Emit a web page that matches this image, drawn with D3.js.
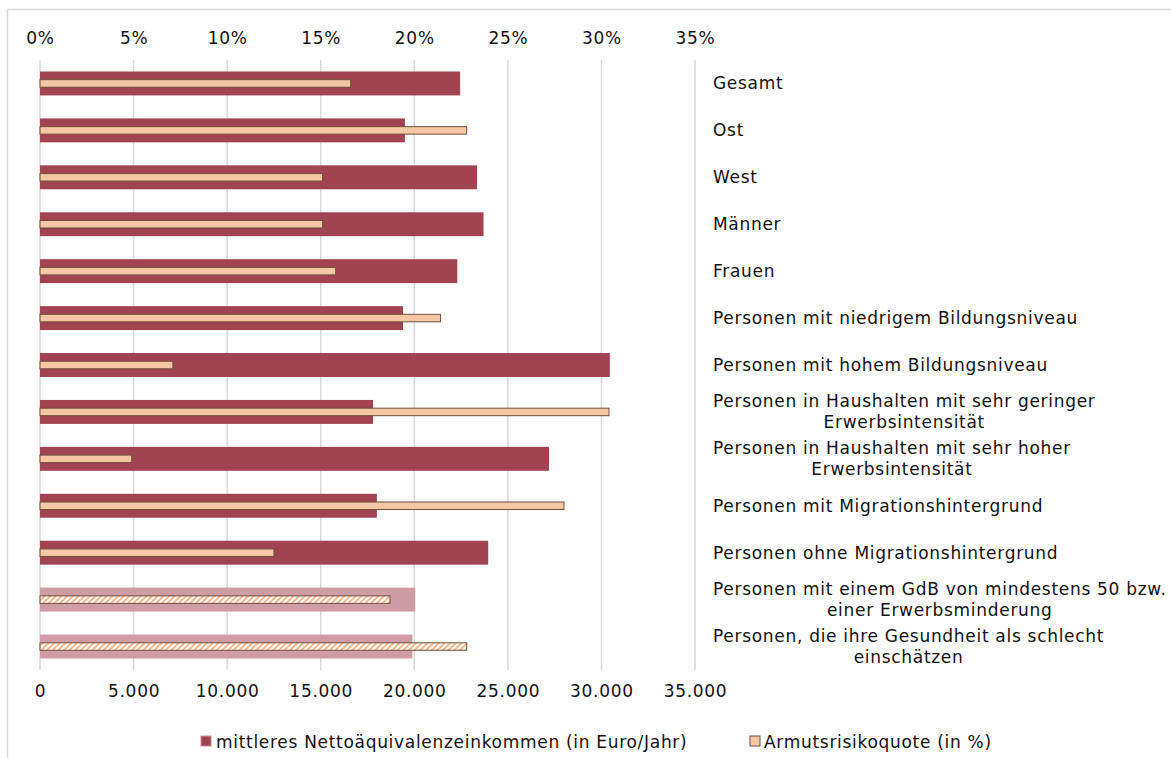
<!DOCTYPE html>
<html>
<head>
<meta charset="utf-8">
<script src="https://cdn.jsdelivr.net/npm/d3@7"></script>
<style>
  body { margin: 0; background: #fff; }
  text { font-family: "DejaVu Sans", sans-serif; fill: #111; letter-spacing: 0.7px; }
</style>
</head>
<body>
<script>
// labels (each entry = lines of the wrapped label)
const categories = [
  ["Gesamt"],
  ["Ost"],
  ["West"],
  ["Männer"],
  ["Frauen"],
  ["Personen mit niedrigem Bildungsniveau"],
  ["Personen mit hohem Bildungsniveau"],
  ["Personen in Haushalten mit sehr geringer", "Erwerbsintensität"],
  ["Personen in Haushalten mit sehr hoher", "Erwerbsintensität"],
  ["Personen mit Migrationshintergrund"],
  ["Personen ohne Migrationshintergrund"],
  ["Personen mit einem GdB von mindestens 50 bzw.", "einer Erwerbsminderung"],
  ["Personen, die ihre Gesundheit als schlecht", "einschätzen"]
];
// mittleres Nettoäquivalenzeinkommen (Euro/Jahr)
const income = [22450, 19500, 23350, 23700, 22300, 19400, 30450, 17800, 27200, 18000, 23950, 20050, 19900];
// Armutsrisikoquote (%)
const poverty = [16.6, 22.8, 15.1, 15.1, 15.8, 21.4, 7.1, 30.4, 4.9, 28.0, 12.5, 18.7, 22.8];
// rows drawn faded / hatched
const faded = [false, false, false, false, false, false, false, false, false, false, false, true, true];

const incomeTicks = [0, 5000, 10000, 15000, 20000, 25000, 30000, 35000];
const pctTicks = [0, 5, 10, 15, 20, 25, 30, 35];
const legendLabels = ["mittleres Nettoäquivalenzeinkommen (in Euro/Jahr)", "Armutsrisikoquote (in %)"];

const W = 1171, H = 758;
const FS = 17;
const svg = d3.select("body").append("svg").attr("width", W).attr("height", H);

const defs = svg.append("defs");
const pat = defs.append("pattern")
  .attr("id", "hatch")
  .attr("patternUnits", "userSpaceOnUse")
  .attr("width", 4).attr("height", 4)
  .attr("patternTransform", "rotate(45)");
pat.append("rect").attr("width", 4).attr("height", 4).attr("fill", "#fff");
pat.append("rect").attr("width", 2).attr("height", 4).attr("fill", "#f4b890");

// frame
svg.append("rect")
  .attr("x", 7.5).attr("y", 9.5)
  .attr("width", W).attr("height", H)
  .attr("fill", "none").attr("stroke", "#d9d9d9").attr("stroke-width", 1.5);

const x = d3.scaleLinear().domain([0, 35000]).range([40, 695]);
const xp = d3.scaleLinear().domain([0, 35]).range([40, 695]);
const y = d3.scaleBand().domain(d3.range(categories.length)).range([60, 670])
  .paddingInner(0.49).paddingOuter(0.245);

// grid lines
svg.append("g").selectAll("line").data(incomeTicks).join("line")
  .attr("x1", d => x(d)).attr("x2", d => x(d))
  .attr("y1", 60).attr("y2", 670)
  .attr("stroke", "#d9d9d9").attr("stroke-width", 1.5);

// top axis (%)
const topAxis = d3.axisTop(xp).tickValues(pctTicks).tickSize(0).tickPadding(0)
  .tickFormat(d => d + "%");
svg.append("g").attr("transform", "translate(0,44)").call(topAxis)
  .call(g => g.select(".domain").remove())
  .selectAll("text").attr("font-size", FS).attr("font-family", "DejaVu Sans").attr("fill", "#111");

// bottom axis (Euro)
const fmt = d3.formatLocale({ decimal: ",", thousands: ".", grouping: [3], currency: ["", "€"] }).format(",");
const botAxis = d3.axisBottom(x).tickValues(incomeTicks).tickSize(0).tickPadding(0)
  .tickFormat(d => fmt(d));
svg.append("g").attr("transform", "translate(0,685)").call(botAxis)
  .call(g => g.select(".domain").remove())
  .selectAll("text").attr("font-size", FS).attr("font-family", "DejaVu Sans").attr("fill", "#111");

// income bars
svg.append("g").selectAll("rect").data(income).join("rect")
  .attr("x", x(0))
  .attr("y", (d, i) => y(i))
  .attr("width", d => x(d) - x(0))
  .attr("height", y.bandwidth())
  .attr("fill", (d, i) => faded[i] ? "#cf9ca6" : "#a24352");

// poverty bars
const ph = 7.5;
svg.append("g").selectAll("rect").data(poverty).join("rect")
  .attr("x", xp(0))
  .attr("y", (d, i) => y(i) + y.bandwidth() / 2 - ph / 2)
  .attr("width", d => xp(d) - xp(0))
  .attr("height", ph)
  .attr("fill", (d, i) => faded[i] ? "url(#hatch)" : "#f6c7a5")
  .attr("stroke", "#6e4f3c").attr("stroke-width", 1);

// category labels on the right
const lab = svg.append("g").selectAll("text").data(categories).join("text")
  .attr("font-size", FS);
lab.each(function(lines, i) {
  const t = d3.select(this);
  const cy = y(i) + y.bandwidth() / 2;
  if (lines.length === 1) {
    t.append("tspan").attr("x", 713).attr("y", cy + 6).text(lines[0]);
  } else {
    const first = t.append("tspan").attr("x", 713).attr("y", cy - 4.5).text(lines[0]);
    const w = first.node().getComputedTextLength();
    t.append("tspan").attr("x", 713 + w / 2).attr("y", cy + 16.5)
      .attr("text-anchor", "middle").text(lines[1]);
  }
});

// legend
const leg = svg.append("g");
leg.append("rect").attr("x", 201).attr("y", 736).attr("width", 10).attr("height", 10)
  .attr("fill", "#a24352").attr("stroke", "#c98a95");
leg.append("text").attr("x", 216).attr("y", 748).attr("font-size", FS).text(legendLabels[0]);
leg.append("rect").attr("x", 750).attr("y", 736).attr("width", 10).attr("height", 10)
  .attr("fill", "#f6c7a5").attr("stroke", "#6e4f3c");
leg.append("text").attr("x", 764).attr("y", 748).attr("font-size", FS).text(legendLabels[1]);
</script>
</body>
</html>
